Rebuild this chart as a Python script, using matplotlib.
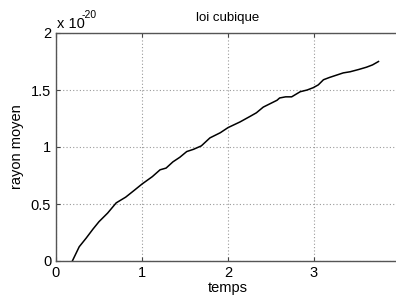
import matplotlib
matplotlib.use("Agg")
import matplotlib.pyplot as plt

# ============================================================
# DATA (rayon moyen en unites de 1e-20)
# ============================================================

temps = [0.19, 0.27, 0.35, 0.43, 0.50, 0.60, 0.70, 0.81, 0.91, 1.00,
         1.12, 1.21, 1.28, 1.36, 1.44, 1.52, 1.60, 1.69, 1.79, 1.91,
         2.00, 2.14, 2.26, 2.33, 2.41, 2.49, 2.57, 2.60, 2.67, 2.74,
         2.84, 2.92, 2.99, 3.05, 3.11, 3.18, 3.26, 3.34, 3.42, 3.52,
         3.61, 3.68, 3.75]
rayon = [0.00, 0.125, 0.20, 0.28, 0.345, 0.42, 0.51, 0.56, 0.62, 0.675,
         0.74, 0.80, 0.815, 0.87, 0.91, 0.96, 0.98, 1.01, 1.08, 1.125,
         1.17, 1.22, 1.27, 1.30, 1.35, 1.38, 1.41, 1.43, 1.44, 1.44,
         1.485, 1.50, 1.52, 1.545, 1.59, 1.61, 1.63, 1.65, 1.66, 1.68,
         1.70, 1.72, 1.75]

xticks = [0, 1, 2, 3]
yticks = [0, 0.5, 1, 1.5, 2]
ytick_labels = ["0", "0.5", "1", "1.5", "2"]

# ============================================================
# FIGURE
# ============================================================

plt.rcParams["font.family"] = ["Liberation Sans", "DejaVu Sans"]

fig = plt.figure(figsize=(3.96, 2.96), dpi=100)
ax = fig.add_axes([56 / 396, 35 / 296, 344 / 396, 228 / 296])

ax.plot(temps, rayon, color="black", lw=1.1)

ax.set_xlim(0, 4)
ax.set_ylim(0, 2)
ax.set_xticks(xticks)
ax.set_yticks(yticks)
ax.set_yticklabels(ytick_labels)
ax.tick_params(direction="in", length=3, labelsize=10.5, color="#444444",
               top=True, right=True)

ax.grid(True, linestyle=(0, (1, 2)), color="#999999", lw=0.8)
for s in ax.spines.values():
    s.set_color("#555555")
    s.set_linewidth(1.0)

ax.set_title("loi cubique", fontsize=9.5, pad=9)
ax.set_xlabel("temps", fontsize=10.5, labelpad=1)
ax.set_ylabel("rayon moyen", fontsize=10.5, labelpad=5)

# multiplicateur facon matlab
ax.text(0.003, 1.01, "x 10", transform=ax.transAxes,
        fontsize=10.5, ha="left", va="bottom")
ax.text(0.075, 1.055, "-20", transform=ax.transAxes,
        fontsize=7.5, ha="left", va="bottom")

fig.savefig("out.png", dpi=100)
